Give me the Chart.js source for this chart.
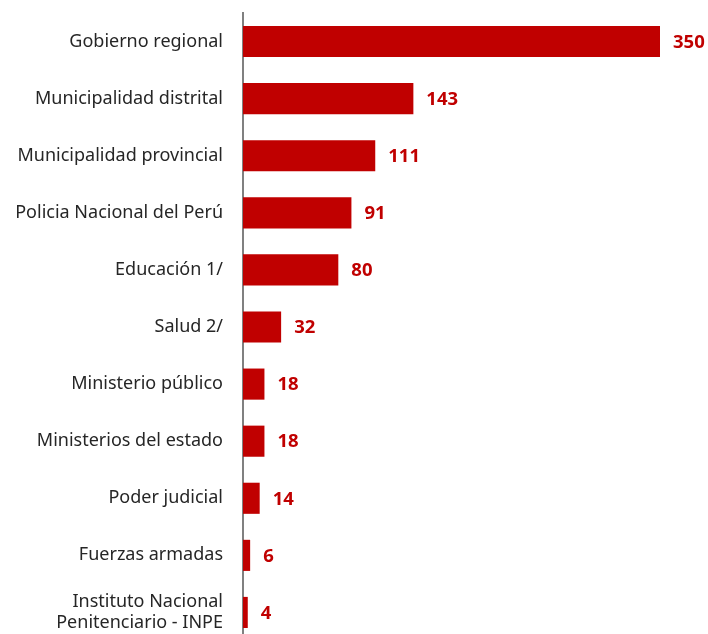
<!DOCTYPE html>
<html>
<head>
<meta charset="utf-8">
<script src="https://cdn.jsdelivr.net/npm/chart.js@4.4.0/dist/chart.umd.min.js"></script>
<style>
    html, body { margin: 0; padding: 0; background: #fff; overflow: hidden; }
    #wrap { position: relative; width: 708px; height: 641px; }
</style>
</head>
<body>
<div id="wrap"><canvas id="barChart"></canvas></div>
<script>
// Chart data
const categories = [
    'Gobierno regional',
    'Municipalidad distrital',
    'Municipalidad provincial',
    'Policia Nacional del Perú',
    'Educación 1/',
    'Salud 2/',
    'Ministerio público',
    'Ministerios del estado',
    'Poder judicial',
    'Fuerzas armadas',
    ['Instituto Nacional', 'Penitenciario - INPE']
];
const values = [350, 143, 111, 91, 80, 32, 18, 18, 14, 6, 4];

const barColor = '#C00000';
const labelFont = '"Noto Sans", "Open Sans", sans-serif';

// value labels at the end of each bar
const valueLabels = {
    id: 'valueLabels',
    afterDatasetsDraw(chart) {
        const ctx = chart.ctx;
        const meta = chart.getDatasetMeta(0);
        ctx.save();
        ctx.fillStyle = barColor;
        ctx.font = 'bold 18.5px ' + labelFont;
        ctx.textAlign = 'left';
        ctx.textBaseline = 'middle';
        meta.data.forEach((bar, i) => {
            ctx.fillText(String(values[i]), bar.x + 13, bar.y + 1);
        });
        ctx.restore();
    }
};

new Chart(document.getElementById('barChart'), {
    type: 'bar',
    data: {
        labels: categories,
        datasets: [{
            data: values,
            backgroundColor: barColor,
            borderWidth: 0,
            categoryPercentage: 1,
            barPercentage: 0.545
        }]
    },
    options: {
        indexAxis: 'y',
        responsive: true,
        maintainAspectRatio: false,
        animation: false,
        layout: {
            padding: { top: 13, right: 48, bottom: 0, left: 0 }
        },
        plugins: {
            legend: { display: false },
            tooltip: { enabled: false }
        },
        scales: {
            x: {
                display: false,
                min: 0,
                max: 350
            },
            y: {
                afterFit(scale) {
                    scale.width = 243;
                    scale.paddingTop = 0;
                    scale.paddingBottom = 0;
                },
                grid: { display: false, drawTicks: false },
                border: { display: true, color: '#808080', width: 2 },
                ticks: {
                    padding: 20,
                    color: '#262626',
                    font: { family: labelFont, size: 18 }
                }
            }
        }
    },
    plugins: [valueLabels]
});
</script>
</body>
</html>
